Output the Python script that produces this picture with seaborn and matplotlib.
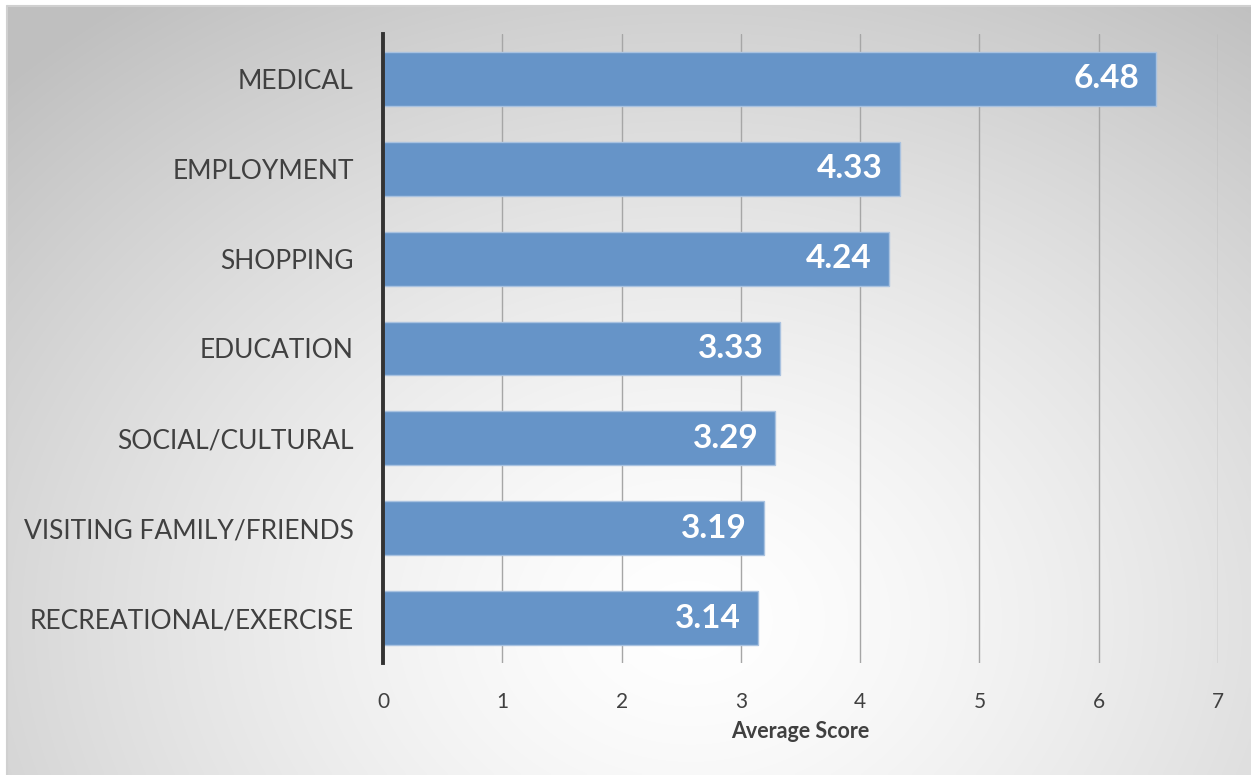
import numpy as np
import pandas as pd
import matplotlib
matplotlib.use("Agg")
import matplotlib.pyplot as plt
import seaborn as sns

categories = ["MEDICAL", "EMPLOYMENT", "SHOPPING", "EDUCATION",
              "SOCIAL/CULTURAL", "VISITING FAMILY/FRIENDS", "RECREATIONAL/EXERCISE"]
scores = [6.48, 4.33, 4.24, 3.33, 3.29, 3.19, 3.14]
x_ticks = [0, 1, 2, 3, 4, 5, 6, 7]
x_label = "Average Score"

df = pd.DataFrame({"category": categories, "score": scores})

sns.set_theme(style="white")
plt.rcParams["font.family"] = ["Lato", "DejaVu Sans"]

W, H, DPI = 1251, 775, 100
fig = plt.figure(figsize=(W / DPI, H / DPI), dpi=DPI)
fig.patch.set_facecolor("white")

# radial gradient panel behind the chart
bx0, by1 = 7 / W, 1 - 6 / H
bg = fig.add_axes([bx0, 0, 1 - bx0, by1], zorder=0)
gx, gy = np.meshgrid(np.linspace(0, 1, 400), np.linspace(0, 1, 250))
cx, cy = 0.55, 0.80
r = np.sqrt(((gx - cx) / 0.78) ** 2 + ((gy - cy) / 1.0) ** 2)
r = np.clip(r, 0, 1)
shade = 1.0 - 0.25 * r ** 1.4
bg.imshow(np.dstack([shade, shade, shade]), aspect="auto", origin="upper",
          extent=[0, 1, 0, 1], interpolation="bilinear")
bg.set_axis_off()
fig.add_artist(plt.Line2D([bx0, 1], [by1, by1], color="#D0D0D0", lw=1.5,
                          transform=fig.transFigure, zorder=1))
fig.add_artist(plt.Line2D([bx0, bx0], [0, by1], color="#D0D0D0", lw=1.5,
                          transform=fig.transFigure, zorder=1))

# main bar chart
left, right = 383 / W, 1218 / W
top, bottom = 1 - 34 / H, 1 - 663 / H
ax = fig.add_axes([left, bottom, right - left, top - bottom], zorder=2)
ax.patch.set_alpha(0)

sns.barplot(data=df, x="score", y="category", orient="h", ax=ax,
            color="#6694C8", saturation=1, width=0.6,
            edgecolor="#A9C2E0", linewidth=1.0, zorder=3)

ax.set_xlim(0, 7)
ax.set_ylim(len(categories) - 0.5, -0.5)
ax.set_xticks(x_ticks)
ax.set_xticklabels([str(t) for t in x_ticks])
ax.xaxis.grid(True, color="#A6A6A6", lw=1.0, zorder=0)
ax.set_axisbelow(True)
for s in ["top", "right", "bottom"]:
    ax.spines[s].set_visible(False)
ax.spines["left"].set_color("#333333")
ax.spines["left"].set_linewidth(2.8)
ax.spines["left"].set_zorder(4)

ax.tick_params(axis="x", length=0, pad=21, labelsize=15, labelcolor="#404040")
ax.tick_params(axis="y", length=0, pad=21, labelsize=19, labelcolor="#404040")
ax.set_ylabel("")
ax.set_xlabel(x_label, fontsize=15.5, fontweight="bold", color="#404040", labelpad=6)

for i, v in enumerate(scores):
    ax.text(v - 0.14, i, f"{v:.2f}", ha="right", va="center",
            color="white", fontsize=24, fontweight="bold", zorder=5)

fig.savefig("out.png", dpi=DPI)
